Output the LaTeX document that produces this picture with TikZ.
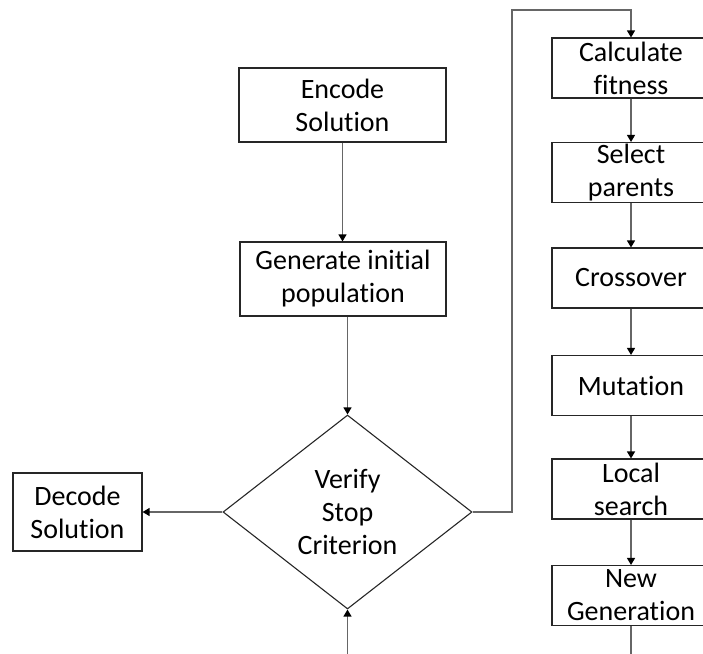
\documentclass[tikz,border=0pt]{standalone}
\usepackage{fontspec}
\setmainfont[Ligatures={NoCommon}]{Carlito}
\usetikzlibrary{arrows.meta,shapes.geometric}
\begin{document}
\begin{tikzpicture}[x=1pt,y=-1pt,
  box/.style={draw=black!85, line width=1.1pt, align=center, inner sep=0pt,
    font=\fontsize{28}{33}\selectfont},
  rbox/.style={box, minimum width=158pt, minimum height=60pt},
  conn/.style={draw=black!60, line width=1.2pt},
  arr/.style={conn, -{Triangle[length=7pt,width=8pt,color=black]}}
]
\useasboundingbox (0,0) rectangle (703,653);
\clip (0,0) rectangle (703,653);
% left column
\node[box, minimum width=207pt, minimum height=74pt] (enc) at (342.5,105) {Encode\\Solution};
\node[box, minimum width=206pt, minimum height=74pt] (gen) at (343,279) {Generate initial\\population};
\node[box, shape=diamond, minimum width=249pt, minimum height=194pt] (dia) at (347.5,512) {Verify\\Stop\\Criterion};
\node[box, minimum width=129pt, minimum height=78pt] (dec) at (77.5,512) {Decode\\Solution};
% right column
\node[rbox] (calc) at (631,68) {Calculate\\fitness};
\node[rbox] (sel) at (631,172.5) {Select\\parents};
\node[rbox] (cross) at (631,278) {Crossover};
\node[rbox] (mut) at (631,385.5) {Mutation};
\node[rbox] (loc) at (631,489) {Local\\search};
\node[rbox] (newg) at (631,595.5) {New\\Generation};
\coordinate (loop) at (512,10);
\coordinate (botin) at (347.5,670);
\coordinate (botout) at (631,670);
% connectors
\draw[arr] (enc.south) -- (gen.north -| enc.south);
\draw[arr] (gen.south -| dia.north) -- (dia.north);
\draw[arr] (dia.west) -- (dec.east);
\draw[arr] (botin) -- (dia.south);
\draw[arr] (dia.east) -| (loop) -| (calc.north);
\draw[arr] (calc.south) -- (sel.north);
\draw[arr] (sel.south) -- (cross.north);
\draw[arr] (cross.south) -- (mut.north);
\draw[arr] (mut.south) -- (loc.north);
\draw[arr] (loc.south) -- (newg.north);
\draw[conn] (newg.south) -- (botout);
\end{tikzpicture}
\end{document}
